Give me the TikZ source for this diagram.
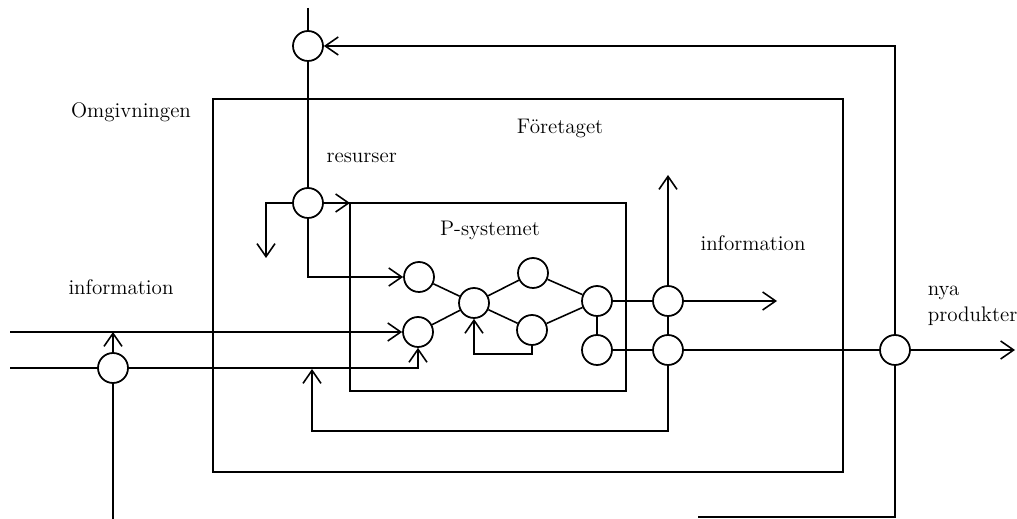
\documentclass[tikz,border=0pt]{standalone}
\usetikzlibrary{arrows.meta}
\begin{document}
\begin{tikzpicture}[x=0.02cm, y=-0.02cm, line width=0.9pt,
    knot/.style={draw, circle, inner sep=0pt, minimum size=0.6cm, line width=1pt},
    txt/.style={font=\fontsize{12}{15}\selectfont},
    box/.style={draw, line width=1.1pt},
    >={Straight Barb[length=2.6mm,width=3.6mm]}]
  \useasboundingbox (0,0) rectangle (1017,519);
  % boxes
  \draw[box] (213,99) rectangle (843,472);
  \draw[box] (350,203) rectangle (626,391);
  \coordinate (psysNW) at (350,203);
  % texts
  \node[txt] (omg) at (131,112) {Omgivningen};
  \node[txt] (ftg) at (560,128) {Företaget};
  \node[txt, anchor=west] (res-l) at (320,158) {resurser};
  \node[txt] (psys-l) at (490,230) {P-systemet};
  \node[txt] (info-l) at (121,287) {information};
  \node[txt] (info-r) at (753,243) {information};
  \node[txt, anchor=west, align=left, inner sep=0pt] (nya-l) at (927,306) {nya\\produkter};
  % circles
  \node[knot] (top) at (308,46) {};
  \node[knot] (res) at (308,203) {};
  \node[knot] (inf) at (113,368) {};
  \node[knot] (p1) at (419,277) {};
  \node[knot] (p2) at (418,332) {};
  \node[knot] (p3) at (474,303) {};
  \node[knot] (p4) at (533,273) {};
  \node[knot] (p5) at (532,330) {};
  \node[knot] (p6) at (597,301) {};
  \node[knot] (p7) at (597,350) {};
  \node[knot] (q1) at (668,301) {};
  \node[knot] (q2) at (668,350) {};
  \node[knot] (nya) at (895,350) {};
  % free ends
  \coordinate (topin) at (308,8);
  \coordinate (resout) at (266,258);
  \coordinate (in1) at (10,332);
  \coordinate (in2) at (10,368);
  \coordinate (infend) at (113,519);
  \coordinate (infup) at (668,175);
  \coordinate (infout) at (777,301);
  \coordinate (prodout) at (1015,350);
  \coordinate (botend) at (698,517);
  \coordinate (fbbot) at (312,431);
  \coordinate (fbtip) at (312,369);
  % resources
  \draw (topin) -- (top.north);
  \draw[->] (nya.north) |- (top.east);
  \draw (top.south) -- (res.north);
  \draw[->] (res.west) -| (resout);
  \draw[->] (res.east) -- (psysNW);
  \draw[->] (res.south) |- (p1.west);
  % information in
  \draw[->] (in1) -- (p2.west);
  \draw (in2) -- (inf.west);
  \draw[->] (inf.east) -| (p2.south);
  \draw[->] (inf.north) -- (inf |- in1);
  \draw (inf.south) -- (infend);
  % P-systemet
  \draw (p1) -- (p3);
  \draw (p2) -- (p3);
  \draw (p3) -- (p4);
  \draw (p3) -- (p5);
  \draw (p4) -- (p6);
  \draw (p5) -- (p6);
  \draw (p6) -- (p7);
  \draw[->] (p5.south) -- ++(0,8) -| (p3.south);
  % out
  \draw (p6.east) -- (q1.west);
  \draw (p7.east) -- (q2.west);
  \draw (q1.south) -- (q2.north);
  \draw[->] (q1.north) -- (infup);
  \draw[->] (q1.east) -- (infout);
  \draw (q2.east) -- (nya.west);
  \draw[->] (nya.east) -- (prodout);
  \draw (nya.south) |- (botend);
  \draw[->] (q2.south) |- (fbbot) -- (fbtip);
\end{tikzpicture}
\end{document}
